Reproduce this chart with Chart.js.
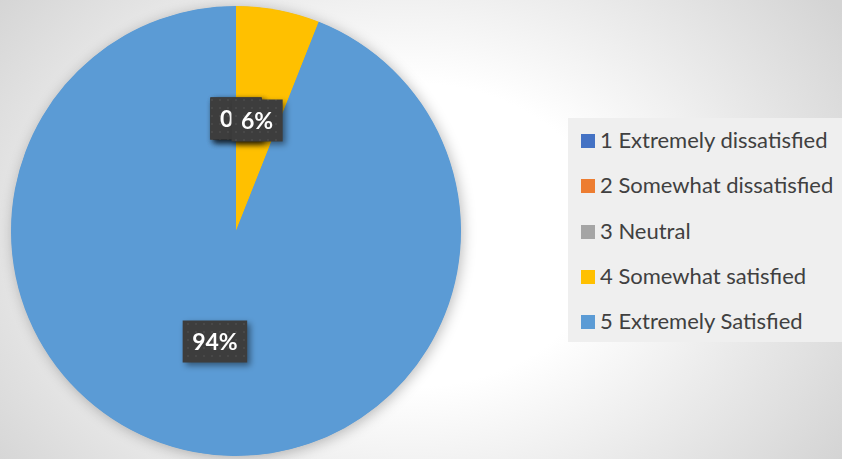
<!DOCTYPE html>
<html>
<head>
<meta charset="utf-8">
<script src="https://cdn.jsdelivr.net/npm/chart.js@4/dist/chart.umd.min.js"></script>
<style>
  html, body { margin: 0; padding: 0; }
  body {
    width: 842px; height: 459px; overflow: hidden; position: relative;
    background: radial-gradient(ellipse 520px 400px at 410px 235px, #ffffff 0%, #ffffff 38%, #d4d4d4 100%);
    background-color: #d4d4d4;
  }
  #wrap { position: absolute; left: 0; top: 0; width: 842px; height: 459px; }
  #legenda {
    position: absolute; left: 568px; top: 118px; width: 274px; height: 224px;
    background: #efefef; font-family: Lato, "Noto Sans", sans-serif; font-size: 22px; color: #404040;
  }
  .item { position: absolute; left: 13px; height: 24px; line-height: 24px; white-space: nowrap; }
  .item span.cx { display: inline-block; width: 14px; height: 14px; margin-right: 5px; vertical-align: 0px; }
</style>
</head>
<body>
<div id="wrap"><canvas id="grafico_pizza" width="842" height="459"></canvas></div>
<div id="legenda"></div>
<script>
// dados do grafico
const categorias = ['1 Extremely dissatisfied', '2 Somewhat dissatisfied', '3 Neutral', '4 Somewhat satisfied', '5 Extremely Satisfied'];
const percentuais = [0, 0, 0, 6, 94];
const cores = ['#4472C4', '#ED7D31', '#A5A5A5', '#FFC000', '#5B9BD5'];

// legenda em html (mesmas cores e rotulos)
const legenda = document.getElementById('legenda');
categorias.forEach((nome, i) => {
  const div = document.createElement('div');
  div.className = 'item';
  div.style.top = (10 + i * 45.3) + 'px';
  div.innerHTML = '<span class="cx" style="background:' + cores[i] + '"></span>' + nome;
  legenda.appendChild(div);
});

// padrao de pontinhos para as caixas dos rotulos
function criarPadrao(ctx) {
  const c = document.createElement('canvas');
  c.width = 8; c.height = 8;
  const p = c.getContext('2d');
  p.fillStyle = '#3d3d3d';
  p.fillRect(0, 0, 8, 8);
  p.fillStyle = 'rgba(255,255,255,0.06)';
  p.fillRect(3, 3, 2, 2);
  return ctx.createPattern(c, 'repeat');
}

// sombra suave em volta da pizza
const sombraPizza = {
  id: 'sombraPizza',
  beforeDatasetsDraw(chart) {
    const arco = chart.getDatasetMeta(0).data[0];
    if (!arco) return;
    const ctx = chart.ctx;
    ctx.save();
    ctx.shadowColor = 'rgba(0,0,0,0.28)';
    ctx.shadowBlur = 14;
    ctx.shadowOffsetX = 2;
    ctx.shadowOffsetY = 2;
    ctx.fillStyle = cores[4];
    ctx.beginPath();
    ctx.arc(arco.x, arco.y, arco.outerRadius - 0.5, 0, Math.PI * 2);
    ctx.fill();
    ctx.restore();
  }
};

// rotulos de dados com caixa escura
const rotulos = {
  id: 'rotulos',
  afterDatasetsDraw(chart) {
    const ctx = chart.ctx;
    const meta = chart.getDatasetMeta(0);
    const padrao = criarPadrao(ctx);
    ctx.save();
    ctx.font = 'bold 23px Lato, "Noto Sans", sans-serif';
    ctx.textAlign = 'center';
    ctx.textBaseline = 'middle';
    meta.data.forEach((arco, i) => {
      const pos = arco.tooltipPosition();
      const texto = percentuais[i] + '%';
      const w = ctx.measureText(texto).width + 19;
      const h = 42;
      ctx.save();
      ctx.shadowColor = 'rgba(0,0,0,0.45)';
      ctx.shadowBlur = 6;
      ctx.shadowOffsetX = 3;
      ctx.shadowOffsetY = 3;
      ctx.fillStyle = padrao;
      ctx.fillRect(pos.x - w / 2, pos.y - h / 2, w, h);
      ctx.restore();
      ctx.fillStyle = '#ffffff';
      ctx.fillText(texto, pos.x, pos.y + 1);
    });
    ctx.restore();
  }
};

new Chart(document.getElementById('grafico_pizza'), {
  type: 'pie',
  data: {
    labels: categorias,
    datasets: [{
      data: percentuais,
      backgroundColor: cores,
      borderWidth: 0
    }]
  },
  options: {
    responsive: false,
    animation: false,
    layout: { padding: { left: 11, top: 6, bottom: 3, right: 381 } },
    plugins: {
      legend: { display: false },
      tooltip: { enabled: false }
    }
  },
  plugins: [sombraPizza, rotulos]
});
</script>
</body>
</html>
